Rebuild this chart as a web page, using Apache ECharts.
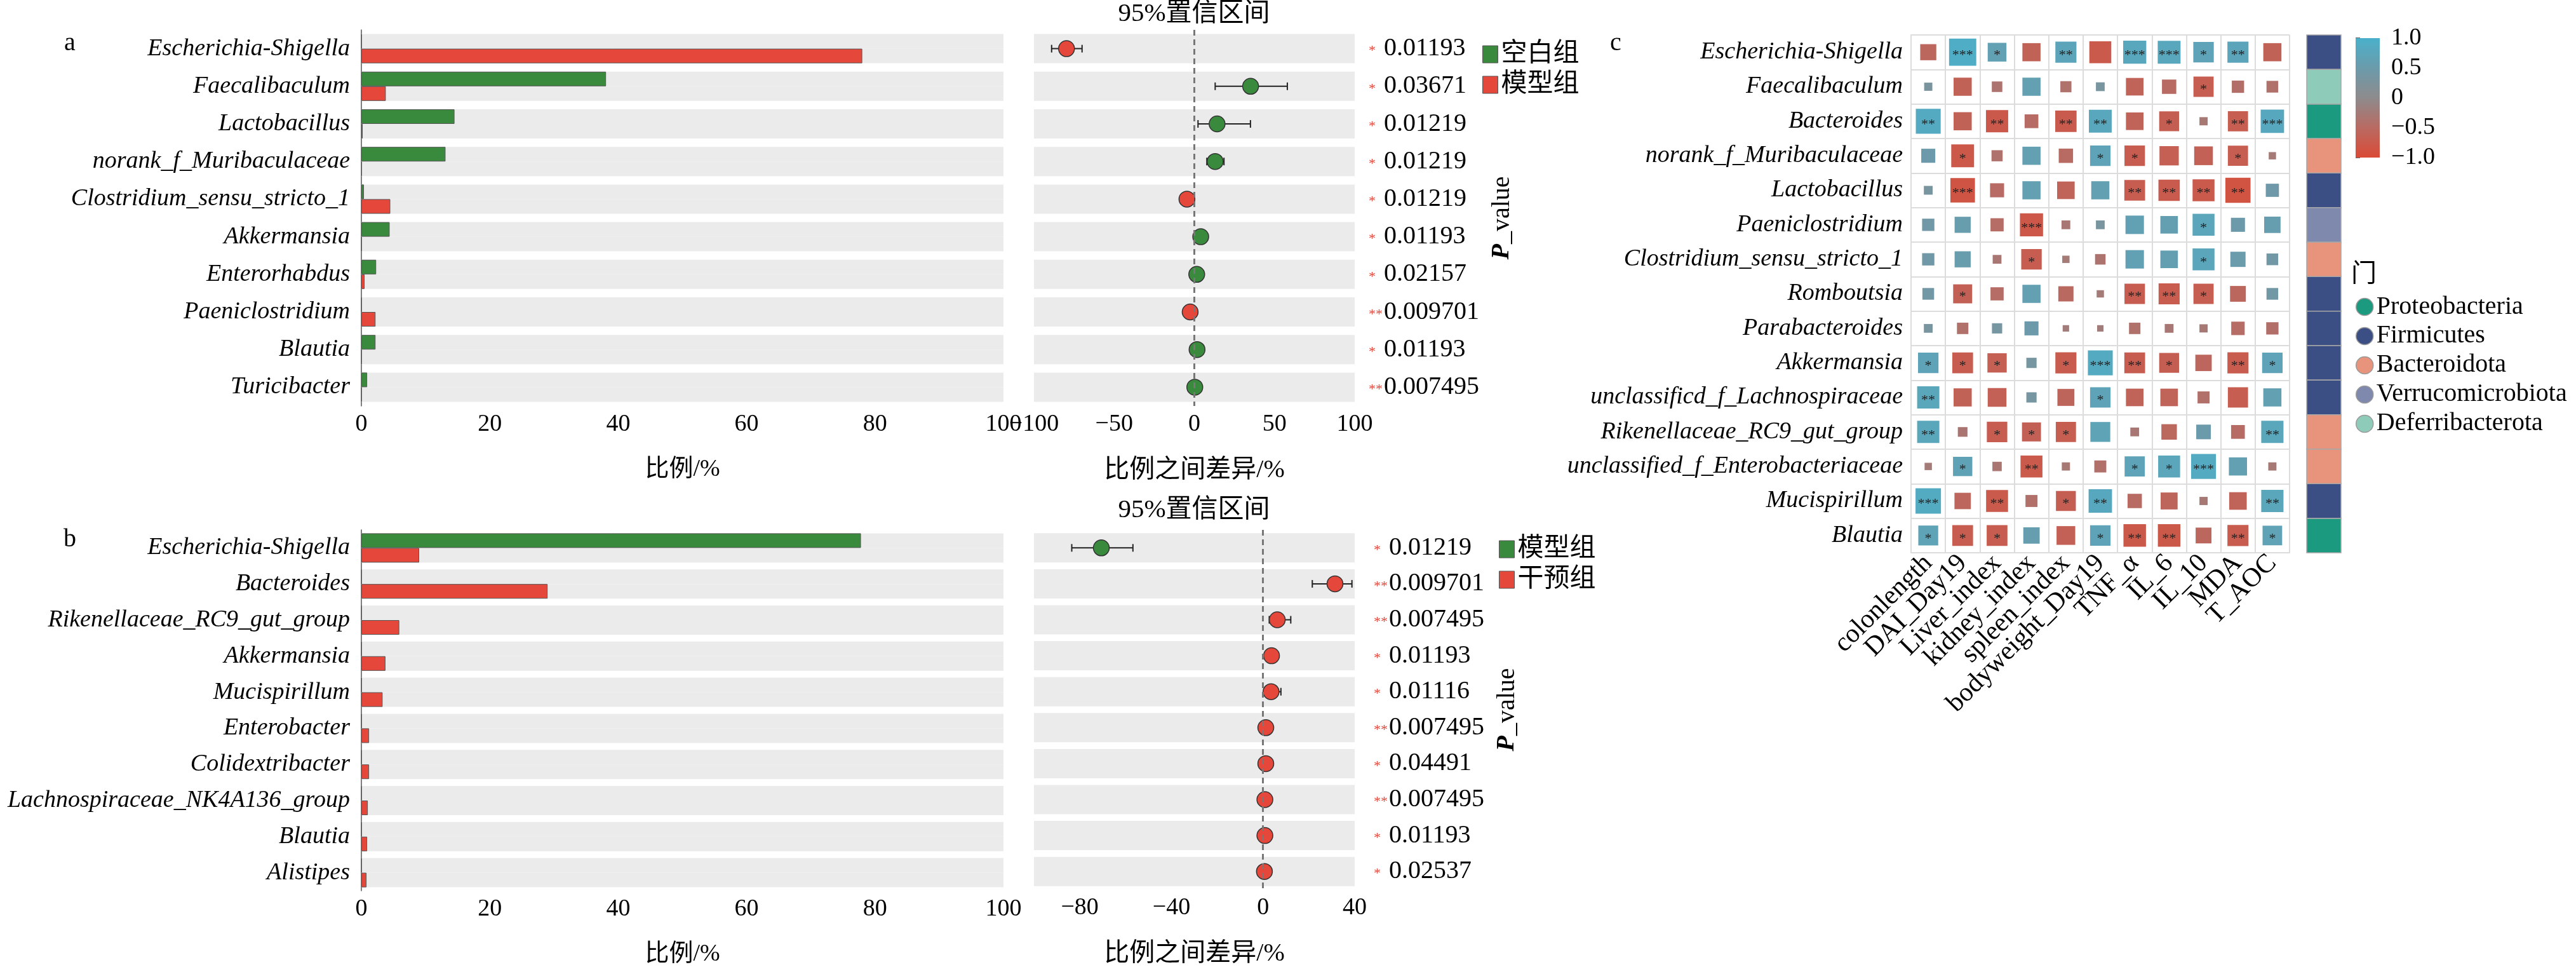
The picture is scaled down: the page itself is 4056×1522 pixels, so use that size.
<!DOCTYPE html>
<html>
<head>
<meta charset="utf-8">
<script src="https://cdn.jsdelivr.net/npm/echarts@6/dist/echarts.min.js"></script>
<style>
  html, body { margin: 0; padding: 0; background: #fff; }
  #main { width: 4056px; height: 1522px; }
</style>
</head>
<body>
<div id="main"></div>
<script>
// ---- panel a : 空白组 vs 模型组 ----
var speciesA = ['Escherichia-Shigella', 'Faecalibaculum', 'Lactobacillus', 'norank_f_Muribaculaceae',
  'Clostridium_sensu_stricto_1', 'Akkermansia', 'Enterorhabdus', 'Paeniclostridium', 'Blautia', 'Turicibacter'];
var greenA = [0.05, 38.1, 14.5, 13.1, 0.4, 4.4, 2.3, 0.05, 2.2, 0.9];
var redA = [78.0, 3.8, 0.2, 0.1, 4.5, 0.05, 0.5, 2.2, 0.05, 0.05];
var diffA = [-79.7, 35.1, 14.2, 13.0, -4.6, 4.0, 1.5, -2.6, 1.7, 0.3];
var lowA = [-89, 13, 2.3, 7.8, -6, 3, 1, -3.5, 1.2, 0.1];
var highA = [-70, 58, 35, 18.5, -3, 5, 2, -1.8, 2.2, 0.5];
var pA = ['0.01193', '0.03671', '0.01219', '0.01219', '0.01219', '0.01193', '0.02157', '0.009701', '0.01193', '0.007495'];
var starsA = ['*', '*', '*', '*', '*', '*', '*', '**', '*', '**'];

// ---- panel b : 模型组 vs 干预组 ----
var speciesB = ['Escherichia-Shigella', 'Bacteroides', 'Rikenellaceae_RC9_gut_group', 'Akkermansia', 'Mucispirillum',
  'Enterobacter', 'Colidextribacter', 'Lachnospiraceae_NK4A136_group', 'Blautia', 'Alistipes'];
var greenB = [77.8, 0.05, 0.05, 0.05, 0.05, 0.05, 0.05, 0.05, 0.05, 0.05];
var redB = [9.0, 29.0, 5.9, 3.75, 3.3, 1.2, 1.2, 1.0, 0.9, 0.8];
var diffB = [-70.6, 31.4, 6.2, 3.7, 3.5, 1.2, 1.2, 0.8, 0.8, 0.6];
var lowB = [-83.5, 21.5, 2.7, 1.2, 1.0, 0.6, 0.7, 0.5, 0.5, 0.3];
var highB = [-56.8, 38.8, 12.1, 6.5, 7.8, 1.8, 1.7, 1.1, 1.1, 0.9];
var pB = ['0.01219', '0.009701', '0.007495', '0.01193', '0.01116', '0.007495', '0.04491', '0.007495', '0.01193', '0.02537'];
var starsB = ['*', '**', '**', '*', '*', '**', '*', '**', '*', '*'];

// ---- panel c : correlation heatmap ----
var heatRows = ['Escherichia-Shigella', 'Faecalibaculum', 'Bacteroides', 'norank_f_Muribaculaceae', 'Lactobacillus',
  'Paeniclostridium', 'Clostridium_sensu_stricto_1', 'Romboutsia', 'Parabacteroides', 'Akkermansia',
  'unclassificd_f_Lachnospiraceae', 'Rikenellaceae_RC9_gut_group', 'unclassified_f_Enterobacteriaceae',
  'Mucispirillum', 'Blautia'];
var heatCols = ['colonlength', 'DAI_Day19', 'Liver_index', 'kidney_index', 'spleen_index', 'bodyweight_Day19',
  'TNF_α', 'IL_6', 'IL_10', 'MDA', 'T_AOC'];
var corr = [
  [-0.55, 0.93, 0.64, -0.62, 0.72, -0.75, 0.79, 0.78, 0.70, 0.72, -0.62],
  [0.28, -0.62, -0.36, 0.62, -0.38, 0.30, -0.60, -0.49, -0.69, -0.42, -0.40],
  [0.85, -0.62, -0.76, -0.47, -0.73, 0.78, -0.60, -0.68, -0.28, -0.69, 0.80],
  [0.48, -0.78, -0.38, 0.62, -0.49, 0.70, -0.70, -0.66, -0.64, -0.69, -0.25],
  [0.30, -0.84, -0.48, 0.62, -0.60, 0.62, -0.71, -0.73, -0.75, -0.86, 0.45],
  [0.42, 0.55, -0.45, -0.79, -0.30, 0.30, 0.63, 0.60, 0.75, 0.48, 0.56],
  [0.42, 0.55, -0.30, -0.70, -0.25, -0.36, 0.63, 0.60, 0.75, 0.52, 0.40],
  [0.40, -0.65, -0.45, 0.62, -0.52, -0.25, -0.70, -0.72, -0.69, -0.54, 0.40],
  [0.30, -0.39, 0.35, 0.48, -0.22, -0.22, -0.39, -0.30, -0.28, -0.46, -0.42],
  [0.70, -0.71, -0.66, 0.35, -0.72, 0.85, -0.71, -0.68, -0.56, -0.72, 0.70],
  [0.76, -0.62, -0.64, 0.35, -0.58, 0.70, -0.60, -0.60, -0.41, -0.69, 0.62],
  [0.76, -0.33, -0.70, -0.65, -0.69, 0.68, -0.30, -0.53, 0.50, -0.47, 0.76],
  [-0.25, 0.66, -0.32, -0.75, -0.28, -0.41, 0.69, 0.75, 0.85, 0.62, -0.28],
  [0.87, -0.56, -0.75, -0.41, -0.68, 0.80, -0.49, -0.58, -0.28, -0.60, 0.76],
  [0.68, -0.71, -0.71, 0.56, -0.64, 0.70, -0.77, -0.77, -0.54, -0.72, 0.67]
];
var sig = [
  ['', '***', '*', '', '**', '', '***', '***', '*', '**', ''],
  ['', '', '', '', '', '', '', '', '*', '', ''],
  ['**', '', '**', '', '**', '**', '', '*', '', '**', '***'],
  ['', '*', '', '', '', '*', '*', '', '', '*', ''],
  ['', '***', '', '', '', '', '**', '**', '**', '**', ''],
  ['', '', '', '***', '', '', '', '', '*', '', ''],
  ['', '', '', '*', '', '', '', '', '*', '', ''],
  ['', '*', '', '', '', '', '**', '**', '*', '', ''],
  ['', '', '', '', '', '', '', '', '', '', ''],
  ['*', '*', '*', '', '*', '***', '**', '*', '', '**', '*'],
  ['**', '', '', '', '', '*', '', '', '', '', ''],
  ['**', '', '*', '*', '*', '', '', '', '', '', '**'],
  ['', '*', '', '**', '', '', '*', '*', '***', '', ''],
  ['***', '', '**', '', '*', '**', '', '', '', '', '**'],
  ['*', '*', '*', '', '', '*', '**', '**', '', '**', '*']
];
var rowPhylum = ['Firmicutes', 'Deferribacterota', 'Proteobacteria', 'Bacteroidota', 'Firmicutes',
  'Verrucomicrobiota', 'Bacteroidota', 'Firmicutes', 'Firmicutes', 'Firmicutes', 'Firmicutes',
  'Bacteroidota', 'Bacteroidota', 'Firmicutes', 'Proteobacteria'];
var phyla = ['Proteobacteria', 'Firmicutes', 'Bacteroidota', 'Verrucomicrobiota', 'Deferribacterota'];
var phylaColors = ['#1b9a7f', '#3c4f85', '#e8937b', '#7f89ae', '#8ecbb9'];

var GREEN = '#3a8a3e', RED = '#e5473a', BG = '#ebebeb';
var SERIF = '"Liberation Serif", "Times New Roman", "Noto Sans CJK SC", serif';
var corrColors = ['#db4a36', '#b96a62', '#8e8b8c', '#6b9bab', '#4ab0ca'];

var myChart = echarts.init(document.getElementById('main'));

function zeros(n) { var a = []; for (var i = 0; i < n; i++) a.push(0); return a; }

function errRender(params, api) {
  var y = api.value(2);
  var p1 = api.coord([api.value(0), y]);
  var p2 = api.coord([api.value(1), y]);
  var h = 6, st = { stroke: '#222', lineWidth: 2 };
  return { type: 'group', children: [
    { type: 'line', shape: { x1: p1[0], y1: p1[1], x2: p2[0], y2: p2[1] }, style: st },
    { type: 'line', shape: { x1: p1[0], y1: p1[1] - h, x2: p1[0], y2: p1[1] + h }, style: st },
    { type: 'line', shape: { x1: p2[0], y1: p2[1] - h, x2: p2[0], y2: p2[1] + h }, style: st }
  ] };
}

function heatRender(params, api) {
  var c = api.value(0), r = api.value(1), v = api.value(2);
  var p = api.coord([c, r]);
  var sz = api.size([1, 1]);
  var side = Math.abs(v) * 0.85 * sz[0];
  var kids = [{ type: 'rect', shape: { x: p[0] - side / 2, y: p[1] - side / 2, width: side, height: side },
    style: { fill: api.visual('color') } }];
  if (sig[r][c]) {
    kids.push({ type: 'text', x: p[0], y: p[1] + 5,
      style: { text: sig[r][c], fontSize: 22, fontFamily: SERIF, fill: '#222',
        align: 'center', verticalAlign: 'middle', textAlign: 'center', textVerticalAlign: 'middle' } });
  }
  return { type: 'group', children: kids };
}

function stripRender(params, api) {
  var p = api.coord([0, api.value(1)]);
  var sz = api.size([1, 1]);
  return { type: 'rect', shape: { x: p[0] - sz[0] / 2, y: p[1] - sz[1] / 2, width: sz[0], height: sz[1] },
    style: { fill: api.visual('color'), stroke: '#a8a8a8', lineWidth: 1.5 } };
}

function barRender(params, api) {
  var cs = params.coordSys;
  var top = api.coord([0, 1])[1], bottom = api.coord([0, -1])[1];
  var stops = [];
  for (var i = corrColors.length - 1; i >= 0; i--) {
    stops.push({ offset: 1 - i / (corrColors.length - 1), color: corrColors[i] });
  }
  return { type: 'rect', shape: { x: cs.x, y: top, width: cs.width, height: bottom - top },
    style: { fill: new echarts.graphic.LinearGradient(0, 0, 0, 1, stops) } };
}

function fmtSigned(v) {
  if (v === 0) return '0';
  return (v < 0 ? '\u2212' : '') + Math.abs(v).toFixed(1);
}

// axes for one panel (bars + confidence dot plot)
function panelAxes(gBar, gDot, species, pv, stars, xDot, pShift) {
  var xa = [
    { gridIndex: gBar, type: 'value', min: 0, max: 100, interval: 20,
      axisLine: { lineStyle: { color: '#000', width: 2.5 } },
      axisTick: { inside: true, length: 12, lineStyle: { color: '#000', width: 2 } },
      axisLabel: { fontSize: 38, fontFamily: SERIF, color: '#000', margin: 10 },
      splitLine: { show: false },
      name: '比例/%', nameLocation: 'middle', nameGap: 81,
      nameTextStyle: { fontSize: 38, fontFamily: SERIF, color: '#000' } },
    { gridIndex: gDot, type: 'value', min: xDot.min, max: xDot.max, interval: xDot.interval,
      axisLine: { lineStyle: { color: '#000', width: 2.5 } },
      axisTick: { inside: true, length: 12, lineStyle: { color: '#000', width: 2 } },
      axisLabel: { fontSize: 38, fontFamily: SERIF, color: '#000', margin: 10,
        formatter: function (v) { return (v % xDot.labelStep === 0) ? (v < 0 ? '\u2212' + (-v) : '' + v) : ''; } },
      splitLine: { show: false },
      name: '比例之间差异/%', nameLocation: 'middle', nameGap: 81,
      nameTextStyle: { fontSize: 40, fontFamily: SERIF, color: '#000' } }
  ];
  var ya = [
    { gridIndex: gBar, type: 'category', data: species, inverse: true,
      axisLine: { lineStyle: { color: '#555', width: 1.5 } }, axisTick: { show: false },
      axisLabel: { fontSize: 38, fontStyle: 'italic', fontFamily: SERIF, color: '#000', margin: 18 } },
    { gridIndex: gDot, type: 'category', data: species, inverse: true,
      axisLine: { show: false }, axisTick: { show: false }, axisLabel: { show: false } },
    { gridIndex: gDot, type: 'category', data: pv, inverse: true, position: 'right',
      axisLine: { show: false }, axisTick: { show: false },
      axisLabel: { margin: 22 + pShift, align: 'left',
        formatter: function (v, i) { return '{s|' + stars[i] + '}{n|' + v + '}'; },
        rich: { s: { color: RED, fontSize: 22, width: 24, fontFamily: SERIF, padding: [8, 0, 0, 0] },
          n: { fontSize: 40, fontFamily: SERIF, color: '#000' } } },
      name: '{p|P}_value', nameLocation: 'middle', nameRotate: 90, nameGap: 212 + pShift,
      nameTextStyle: { fontSize: 40, fontFamily: SERIF, color: '#000',
        rich: { p: { fontSize: 40, fontFamily: SERIF, fontStyle: 'italic', fontWeight: 'bold', color: '#000' } } } }
  ];
  return { xa: xa, ya: ya };
}

function panelSeries(xBar, yBar, xDot, yDot, green, red, diff, low, high, names, greenWhenPositive) {
  var bgStyle = { color: BG };
  var errData = [], dotData = [];
  for (var i = 0; i < diff.length; i++) {
    errData.push([low[i], high[i], i]);
    var isGreen = greenWhenPositive ? diff[i] > 0 : diff[i] < 0;
    dotData.push({ value: [diff[i], i], itemStyle: { color: isGreen ? GREEN : RED } });
  }
  return [
    { name: names[0], type: 'bar', xAxisIndex: xBar, yAxisIndex: yBar, data: green, barWidth: 23, barGap: '0%',
      showBackground: true, backgroundStyle: bgStyle,
      itemStyle: { color: GREEN, borderColor: '#555', borderWidth: 1 } },
    { name: names[1], type: 'bar', xAxisIndex: xBar, yAxisIndex: yBar, data: red, barWidth: 23, barGap: '0%',
      showBackground: true, backgroundStyle: bgStyle,
      itemStyle: { color: RED, borderColor: '#555', borderWidth: 1 } },
    { type: 'bar', xAxisIndex: xDot, yAxisIndex: yDot, data: zeros(diff.length), barWidth: 46,
      showBackground: true, backgroundStyle: bgStyle, itemStyle: { color: 'rgba(0,0,0,0)' }, z: 1,
      markLine: { silent: true, symbol: ['none', 'none'], label: { show: false },
        lineStyle: { color: '#777', type: [9, 6], width: 3 }, data: [{ xAxis: 0 }] } },
    { type: 'custom', xAxisIndex: xDot, yAxisIndex: yDot, renderItem: errRender, data: errData, z: 3 },
    { type: 'scatter', xAxisIndex: xDot, yAxisIndex: yDot, data: dotData, symbolSize: 25, z: 4,
      itemStyle: { borderColor: '#333', borderWidth: 1.5, opacity: 1 } }
  ];
}

var pa = panelAxes(0, 1, speciesA, pA, starsA, { min: -100, max: 100, interval: 50, labelStep: 50 }, 0);
var pb = panelAxes(2, 3, speciesB, pB, starsB, { min: -100, max: 40, interval: 20, labelStep: 40 }, 8);
var xAxes = pa.xa.concat(pb.xa);
var yAxes = pa.ya.concat(pb.ya);
var series = [];
series = series.concat(panelSeries(0, 0, 1, 1, greenA, redA, diffA, lowA, highA, ['空白组', '模型组'], true));
series = series.concat(panelSeries(2, 3, 3, 4, greenB, redB, diffB, lowB, highB, ['模型组', '干预组'], false));

// heatmap axes
xAxes.push({ gridIndex: 4, type: 'category', data: heatCols,
  axisLine: { lineStyle: { color: '#dcdcdc', width: 2 } }, axisTick: { show: false },
  axisLabel: { rotate: 45, fontSize: 42, fontFamily: SERIF, color: '#000', margin: 10, interval: 0 },
  splitLine: { show: true, interval: 0, lineStyle: { color: '#dcdcdc', width: 2 } } });
yAxes.push({ gridIndex: 4, type: 'category', data: heatRows, inverse: true,
  axisLine: { lineStyle: { color: '#dcdcdc', width: 2 } }, axisTick: { show: false },
  axisLabel: { fontSize: 38, fontStyle: 'italic', fontFamily: SERIF, color: '#000', margin: 13, interval: 0 },
  splitLine: { show: true, interval: 0, lineStyle: { color: '#dcdcdc', width: 2 } } });
// phylum strip axes
xAxes.push({ gridIndex: 5, type: 'category', data: ['门'], show: false });
yAxes.push({ gridIndex: 5, type: 'category', data: heatRows, inverse: true, show: false });
// colour scale axes
xAxes.push({ gridIndex: 6, type: 'value', min: 0, max: 1, show: false });
yAxes.push({ gridIndex: 6, type: 'value', min: -1, max: 1, interval: 0.5, position: 'right',
  axisLine: { show: false }, splitLine: { show: false },
  axisTick: { show: true, length: 7, lineStyle: { color: '#666', width: 2 } },
  axisLabel: { fontSize: 38, fontFamily: SERIF, color: '#000', margin: 18, formatter: fmtSigned } });

var heatData = [];
for (var r = 0; r < heatRows.length; r++) {
  for (var c = 0; c < heatCols.length; c++) heatData.push([c, r, corr[r][c]]);
}
var heatSeriesIndex = series.length;
series.push({ name: 'corr', type: 'custom', xAxisIndex: 4, yAxisIndex: 6, renderItem: heatRender, data: heatData, z: 3 });

phyla.forEach(function (ph, k) {
  var d = [];
  rowPhylum.forEach(function (p, i) { if (p === ph) d.push([0, i]); });
  series.push({ name: ph, type: 'custom', xAxisIndex: 5, yAxisIndex: 7, renderItem: stripRender,
    itemStyle: { color: phylaColors[k] }, data: d });
});
series.push({ type: 'custom', xAxisIndex: 6, yAxisIndex: 8, renderItem: barRender, data: [[0.5, 0]] });

function label(text, x, y, size) {
  return { type: 'text', x: x, y: y, style: { text: text, fontSize: size, fontFamily: SERIF, fill: '#000',
    align: 'center', verticalAlign: 'middle', textAlign: 'center', textVerticalAlign: 'middle' } };
}

var option = {
  animation: false,
  backgroundColor: '#fff',
  textStyle: { fontFamily: SERIF },
  grid: [
    { left: 569, top: 47, width: 1011, height: 592 },
    { left: 1628, top: 47, width: 505, height: 592 },
    { left: 569, top: 834, width: 1011, height: 589 },
    { left: 1628, top: 834, width: 505, height: 589 },
    { left: 3009, top: 55, width: 596, height: 815 },
    { left: 3632, top: 55, width: 54, height: 815 },
    { left: 3709, top: 60, width: 38, height: 188 }
  ],
  xAxis: xAxes,
  yAxis: yAxes,
  visualMap: {
    show: false, type: 'continuous', seriesIndex: heatSeriesIndex, dimension: 2,
    min: -1, max: 1, inRange: { color: corrColors }
  },
  legend: [
    { orient: 'vertical', left: 2329, top: 60, itemWidth: 24, itemHeight: 27, itemGap: 7,
      selectedMode: false, icon: 'rect',
      itemStyle: { borderColor: '#555', borderWidth: 1 },
      textStyle: { fontSize: 41, fontFamily: SERIF, color: '#000' },
      data: [{ name: '空白组', itemStyle: { color: GREEN } }, { name: '模型组', itemStyle: { color: RED } }] },
    { orient: 'vertical', left: 2355, top: 839, itemWidth: 24, itemHeight: 27, itemGap: 7,
      selectedMode: false, icon: 'rect',
      itemStyle: { borderColor: '#555', borderWidth: 1 },
      textStyle: { fontSize: 41, fontFamily: SERIF, color: '#000' },
      data: [{ name: '模型组', itemStyle: { color: GREEN } }, { name: '干预组', itemStyle: { color: RED } }] },
    { orient: 'vertical', left: 3704, top: 458, itemWidth: 27, itemHeight: 27, itemGap: 6,
      selectedMode: false, icon: 'circle',
      itemStyle: { borderColor: '#9a9a9a', borderWidth: 1.5 },
      textStyle: { fontSize: 40, fontFamily: SERIF, color: '#000' },
      data: phyla }
  ],
  graphic: [
    label('a', 110, 68, 40),
    label('b', 110, 849, 40),
    label('c', 2544, 68, 40),
    label('95%置信区间', 1880, 22, 41),
    label('95%置信区间', 1880, 803, 41),
    label('门', 3722, 432, 40)
  ],
  series: series
};

myChart.setOption(option);
</script>
</body>
</html>
